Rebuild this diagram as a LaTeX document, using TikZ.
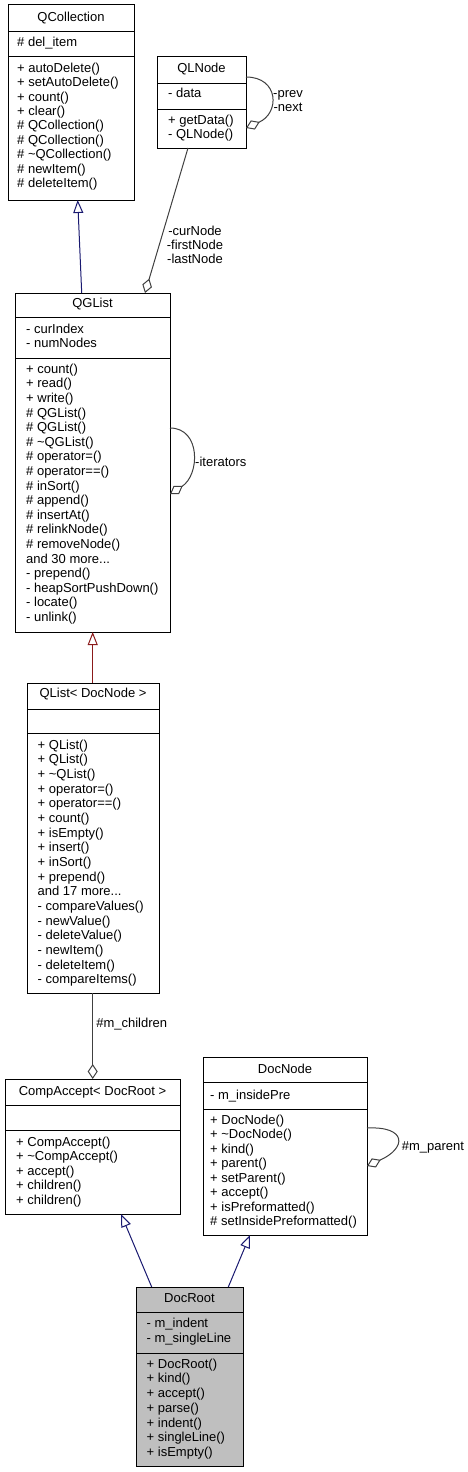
\documentclass[tikz,border=0pt]{standalone}
\usepackage{fontspec}
\setmainfont{Liberation Sans}
\usetikzlibrary{arrows.meta}
\definecolor{navy}{HTML}{191970}
\definecolor{dred}{HTML}{8B1A1A}
\definecolor{edgegray}{HTML}{404040}
\definecolor{rootfill}{HTML}{BFBFBF}
\newcommand\moredots{.{}.{}.}
\tikzset{
  cls/.style={draw=black, line width=1pt, anchor=north west, inner sep=0pt, outer sep=0pt, fill=white},
  txt/.style={anchor=west, inner sep=0pt, font=\fontsize{13}{15}\selectfont, text height=9.5pt, text depth=3pt},
  ttl/.style={anchor=center, inner sep=0pt, font=\fontsize{13}{15}\selectfont, text height=9.5pt, text depth=3pt},
  sep/.style={draw=black, line width=1pt},
  inh/.style={draw=navy, line width=1pt, -{Triangle[fill=white, length=13pt, width=10pt]}},
  inhp/.style={draw=dred, line width=1pt, -{Triangle[fill=white, length=13pt, width=10pt]}},
  agg/.style={draw=edgegray, line width=1pt, -{Diamond[fill=white, length=15pt, width=10pt]}},
  lbl/.style={inner sep=0pt, font=\fontsize{13}{14}\selectfont, align=center},
}
\begin{document}
\begin{tikzpicture}[x=1pt, y=-1pt]
\useasboundingbox (0,0) rectangle (468,1472);

% ---------------- boxes
\node[cls, minimum width=126pt, minimum height=195pt] (qc) at (8,5) {};
\node[cls, minimum width=89pt, minimum height=91pt] (qln) at (157,57) {};
\node[cls, minimum width=155pt, minimum height=339pt] (qgl) at (15,293) {};
\node[cls, minimum width=132pt, minimum height=310pt] (qli) at (27,683) {};
\node[cls, minimum width=175pt, minimum height=135pt] (ca) at (5,1079) {};
\node[cls, minimum width=164pt, minimum height=178pt] (dn) at (203,1057) {};
\node[cls, minimum width=107pt, minimum height=179pt, fill=rootfill] (dr) at (136,1287) {};

% separators
\draw[sep] (qc.west |- 0,32) -- (qc.east |- 0,32);
\draw[sep] (qc.west |- 0,57) -- (qc.east |- 0,57);
\draw[sep] (qln.west |- 0,83) -- (qln.east |- 0,83);
\draw[sep] (qln.west |- 0,109) -- (qln.east |- 0,109);
\draw[sep] (qgl.west |- 0,317) -- (qgl.east |- 0,317);
\draw[sep] (qgl.west |- 0,358) -- (qgl.east |- 0,358);
\draw[sep] (qli.west |- 0,709) -- (qli.east |- 0,709);
\draw[sep] (qli.west |- 0,733) -- (qli.east |- 0,733);
\draw[sep] (ca.west |- 0,1105) -- (ca.east |- 0,1105);
\draw[sep] (ca.west |- 0,1130) -- (ca.east |- 0,1130);
\draw[sep] (dn.west |- 0,1082) -- (dn.east |- 0,1082);
\draw[sep] (dn.west |- 0,1109) -- (dn.east |- 0,1109);
\draw[sep] (dr.west |- 0,1312) -- (dr.east |- 0,1312);
\draw[sep] (dr.west |- 0,1353) -- (dr.east |- 0,1353);

% ---------------- texts
% QCollection
\node[ttl] (qc-t) at (71,18) {QCollection};
\node[txt] (qc-a0) at (17,43) {\# del\_item};
\foreach \t [count=\i from 0] in {+ autoDelete(), + setAutoDelete(), + count(), + clear(), \# QCollection(), \# QCollection(), \# \textasciitilde QCollection(), \# newItem(), \# deleteItem()}
  \node[txt] (qc-m\i) at (17,69+\i*14.4) {\t};

% QLNode
\node[ttl] (qln-t) at (201.5,69) {QLNode};
\node[txt] (qln-a0) at (168,94.5) {- data};
\node[txt] (qln-m0) at (168,121) {+ getData()};
\node[txt] (qln-m1) at (168,135) {- QLNode()};

% QGList
\node[ttl] (qgl-t) at (92.5,304.5) {QGList};
\node[txt] (qgl-a0) at (26,330) {- curIndex};
\node[txt] (qgl-a1) at (26,344.5) {- numNodes};
\foreach \t [count=\i from 0] in {+ count(), + read(), + write(), \# QGList(), \# QGList(), \# \textasciitilde QGList(), \# operator=(), \# operator==(), \# inSort(), \# append(), \# insertAt(), \# relinkNode(), \# removeNode(), and 30 more\moredots, - prepend(), - heapSortPushDown(), - locate(), - unlink()}
  \node[txt] (qgl-m\i) at (26,370+\i*14.6) {\t};

% QList<DocNode>
\node[ttl] (qli-t) at (93,694.5) {QList< DocNode >};
\foreach \t [count=\i from 0] in {+ QList(), + QList(), + \textasciitilde QList(), + operator=(), + operator==(), + count(), + isEmpty(), + insert(), + inSort(), + prepend(), and 17 more\moredots, - compareValues(), - newValue(), - deleteValue(), - newItem(), - deleteItem(), - compareItems()}
  \node[txt] (qli-m\i) at (37.5,746+\i*14.67) {\t};

% CompAccept<DocRoot>
\node[ttl] (ca-t) at (92.5,1092) {CompAccept< DocRoot >};
\foreach \t [count=\i from 0] in {+ CompAccept(), + \textasciitilde CompAccept(), + accept(), + children(), + children()}
  \node[txt] (ca-m\i) at (16,1143+\i*14.5) {\t};

% DocNode
\node[ttl] (dn-t) at (285,1070) {DocNode};
\node[txt] (dn-a0) at (210,1096) {- m\_insidePre};
\foreach \t [count=\i from 0] in {+ DocNode(), + \textasciitilde DocNode(), + kind(), + parent(), + setParent(), + accept(), + isPreformatted(), \# setInsidePreformatted()}
  \node[txt] (dn-m\i) at (210,1121+\i*14.5) {\t};

% DocRoot
\node[ttl] (dr-t) at (189.5,1299) {DocRoot};
\node[txt] (dr-a0) at (146.5,1324.5) {- m\_indent};
\node[txt] (dr-a1) at (146.5,1339) {- m\_singleLine};
\foreach \t [count=\i from 0] in {+ DocRoot(), + kind(), + accept(), + parse(), + indent(), + singleLine(), + isEmpty()}
  \node[txt] (dr-m\i) at (146.5,1365+\i*14.7) {\t};

% ---------------- connectors
\draw[inh] ([xshift=66.7pt]qgl.north west) -- ([xshift=69.7pt]qc.south west);
\draw[agg] ([xshift=31pt]qln.south west) -- ([xshift=130pt]qgl.north west);
\node[lbl] (l-cur) at (195,245) {-curNode\\-firstNode\\-lastNode};

\draw[agg] ([yshift=-20pt]qln.north east) .. controls (279,77) and (280,113) .. ([yshift=-71pt]qln.north east);
\node[lbl] (l-prev) at (288,101) {-prev\\-next};

\draw[agg] ([yshift=-135pt]qgl.north east) .. controls (201,428) and (200,475) .. ([yshift=-201pt]qgl.north east);
\node[lbl, anchor=west] (l-it) at (195,462) {-iterators};

\draw[inhp] ([xshift=65.7pt]qli.north west) -- ([xshift=77.7pt]qgl.south west);

\draw[agg] ([xshift=65.7pt]qli.south west) -- ([xshift=87.7pt]ca.north west);
\node[lbl] (l-ch) at (131.7,1024) {\#m\_children};

\draw[agg] ([yshift=-71pt]dn.north east) .. controls (407,1126) and (407,1148) .. ([yshift=-109pt]dn.north east);
\node[lbl, anchor=west] (l-par) at (401.7,1147) {\#m\_parent};

\draw[inh] ([xshift=15.7pt]dr.north west) -- ([xshift=116pt]ca.south west);
\draw[inh] ([xshift=92.3pt]dr.north west) -- ([xshift=47pt]dn.south west);
\end{tikzpicture}
\end{document}
